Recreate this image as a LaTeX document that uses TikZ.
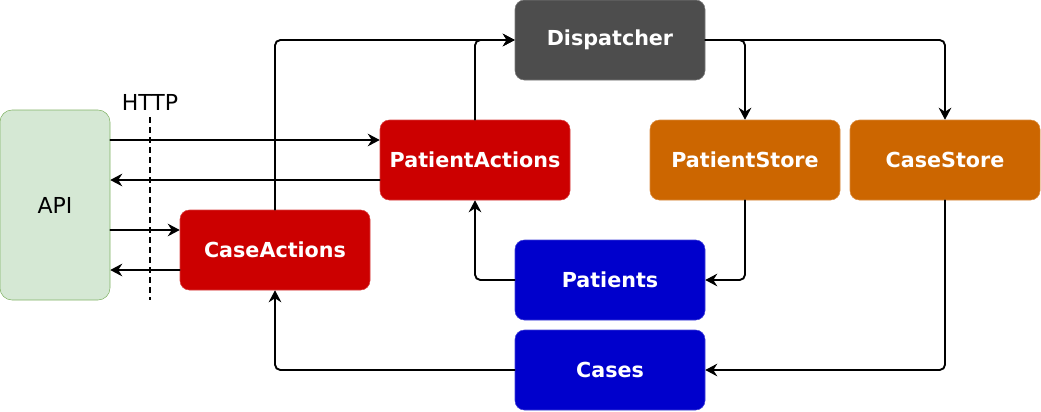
\documentclass[tikz,border=0pt]{standalone}
\usepackage{fontspec}
\setmainfont{DejaVu Sans}
\usetikzlibrary{arrows.meta}
\definecolor{apifill}{HTML}{D5E8D4}
\definecolor{apiline}{HTML}{82B366}
\definecolor{actred}{HTML}{CC0000}
\definecolor{dispgrey}{HTML}{4D4D4D}
\definecolor{storeorange}{HTML}{CC6600}
\definecolor{viewblue}{HTML}{0000CC}
\begin{document}
\begin{tikzpicture}[line cap=round,line join=round,x=0.75pt,y=-0.75pt,
  box/.style={rounded corners=7pt, minimum width=142.5pt, minimum height=60pt, inner sep=0pt, text=white, font=\fontsize{15.5}{18}\selectfont\bfseries},
  flow/.style={-{Stealth[length=9pt,width=9.5pt,inset=3pt]}, line width=1.4pt, rounded corners=4pt}]
\useasboundingbox (0,0) rectangle (1041,411);
\node [draw=apiline, fill=apifill, rounded corners=9pt, minimum width=82.5pt, minimum height=142.5pt, inner sep=0pt, font=\fontsize{16.5}{19}\selectfont] (api) at (55,205) {API};
\node [font=\fontsize{16.5}{19}\selectfont] (http) at (150,102) {HTTP};
\draw [dash pattern=on 4.5pt off 3pt, line width=1.4pt, line cap=butt] (150,117) -- (150,300);
\node [box, fill=actred, draw=actred!75!white] (pa) at (475,160) {PatientActions};
\node [box, fill=actred, draw=actred!75!white] (ca) at (275,250) {CaseActions};
\node [box, fill=dispgrey, draw=dispgrey!75!white] (disp) at (610,40) {Dispatcher};
\node [box, fill=storeorange, draw=storeorange!75!white] (ps) at (745,160) {PatientStore};
\node [box, fill=storeorange, draw=storeorange!75!white] (cs) at (945,160) {CaseStore};
\node [box, fill=viewblue, draw=viewblue!75!white] (pat) at (610,280) {Patients};
\node [box, fill=viewblue, draw=viewblue!75!white] (cases) at (610,370) {Cases};
% api <-> actions
\draw [flow] (api.east |- 0,140) -- (pa.west |- 0,140);
\draw [flow] (pa.west |- 0,180) -- (api.east |- 0,180);
\draw [flow] (api.east |- 0,230) -- (ca.west |- 0,230);
\draw [flow] (ca.west |- 0,270) -- (api.east |- 0,270);
% actions -> dispatcher -> stores
\draw [flow] (ca.north) |- (disp.west);
\draw [flow] (pa.north) |- (disp.west);
\draw [flow] (disp.east) -| (ps.north);
\draw [flow] (disp.east) -| (cs.north);
% stores -> views -> actions
\draw [flow] (ps.south) |- (pat.east);
\draw [flow] (cs.south) |- (cases.east);
\draw [flow] (pat.west) -| (pa.south);
\draw [flow] (cases.west) -| (ca.south);
\end{tikzpicture}
\end{document}
